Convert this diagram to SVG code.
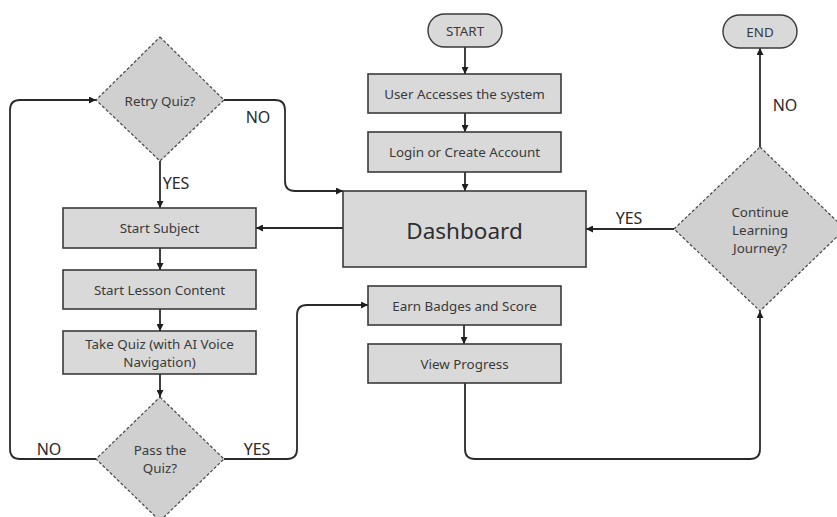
<svg xmlns="http://www.w3.org/2000/svg" width="837" height="517" viewBox="0 0 837 517">
  <defs>
    <marker id="arrow" viewBox="0 0 8 8" refX="8" refY="4" markerWidth="7" markerHeight="7" markerUnits="userSpaceOnUse" orient="auto">
      <path d="M0,0 L8,4 L0,8 Z" fill="#1e1e1e"/>
    </marker>
    <style>
      .box { fill: #d9d9d9; stroke: #3a3a3a; stroke-width: 1.6; }
      .pill { fill: #d9d9d9; stroke: #3a3a3a; stroke-width: 1.4; }
      .dia { fill: #d0d0d0; stroke: #444; stroke-width: 1.2; stroke-dasharray: 3 2; }
      .t { font-family: "Noto Sans", "Open Sans", sans-serif; font-size: 13.4px; fill: #3a3a3a; text-anchor: middle; dominant-baseline: central; }
      .big { font-size: 22.5px; fill: #2e2e2e; }
      .lbl { font-family: "Noto Sans", "Open Sans", sans-serif; font-size: 16px; fill: #2a2a2a; text-anchor: middle; }
      .c { fill: none; stroke: #2a2a2a; stroke-width: 1.8; marker-end: url(#arrow); }
    </style>
  </defs>
  <rect width="837" height="517" fill="#ffffff"/>

  <g id="connectors">
    <path class="c" d="M465,47 V74"/>
    <path class="c" d="M465,113 V132"/>
    <path class="c" d="M465,172 V191"/>
    <path class="c" d="M343,228 H256"/>
    <path class="c" d="M160,248 V270"/>
    <path class="c" d="M160,309 V331"/>
    <path class="c" d="M160,374 V397"/>
    <path class="c" d="M96,459 H20 Q10,459 10,449 V110 Q10,100 20,100 H96"/>
    <path class="c" d="M224,459 H287 Q297,459 297,449 V315 Q297,305 307,305 H368"/>
    <path class="c" d="M224,100 H275 Q285,100 285,110 V181 Q285,191 295,191 H343"/>
    <path class="c" d="M160,161 V208"/>
    <path class="c" d="M464,325 V344"/>
    <path class="c" d="M465,383 V449 Q465,459 475,459 H750 Q760,459 760,449 V311"/>
    <path class="c" d="M674,229 H586"/>
    <path class="c" d="M760,147 V48"/>
    <text class="lbl" x="258" y="123">NO</text>
    <text class="lbl" x="176" y="189">YES</text>
    <text class="lbl" x="785" y="111">NO</text>
    <text class="lbl" x="629" y="224">YES</text>
    <text class="lbl" x="49" y="455">NO</text>
    <text class="lbl" x="257" y="455">YES</text>
  </g>

  <g id="start">
    <rect class="pill" x="428" y="14" width="74" height="33" rx="16.5"/>
    <text class="t" x="465" y="30.5">START</text>
  </g>
  <g id="user-access">
    <rect class="box" x="368" y="74" width="193" height="39"/>
    <text class="t" x="464.5" y="94">User Accesses the system</text>
  </g>
  <g id="login">
    <rect class="box" x="368" y="132" width="193" height="40"/>
    <text class="t" x="464.5" y="152">Login or Create Account</text>
  </g>
  <g id="dashboard">
    <rect class="box" x="343" y="191" width="243" height="76"/>
    <text class="t big" x="464.5" y="230">Dashboard</text>
  </g>
  <g id="retry-quiz">
    <polygon class="dia" points="160,37 224,100 160,161 96,100"/>
    <text class="t" x="160" y="101">Retry Quiz?</text>
  </g>
  <g id="start-subject">
    <rect class="box" x="63" y="208" width="193" height="40"/>
    <text class="t" x="159.5" y="228">Start Subject</text>
  </g>
  <g id="start-lesson">
    <rect class="box" x="63" y="270" width="193" height="39"/>
    <text class="t" x="159.5" y="289.5">Start Lesson Content</text>
  </g>
  <g id="take-quiz">
    <rect class="box" x="63" y="331" width="193" height="43"/>
    <text class="t" x="159.5" y="344">Take Quiz (with AI Voice</text>
    <text class="t" x="159.5" y="362">Navigation)</text>
  </g>
  <g id="pass-quiz">
    <polygon class="dia" points="160,397 224,459 160,521 96,459"/>
    <text class="t" x="160" y="450">Pass the</text>
    <text class="t" x="160" y="468">Quiz?</text>
  </g>
  <g id="earn-badges">
    <rect class="box" x="368" y="286" width="193" height="39"/>
    <text class="t" x="464.5" y="305.5">Earn Badges and Score</text>
  </g>
  <g id="view-progress">
    <rect class="box" x="368" y="344" width="193" height="39"/>
    <text class="t" x="464.5" y="363.5">View Progress</text>
  </g>
  <g id="continue">
    <polygon class="dia" points="760,147 845,229 760,311 674,229"/>
    <text class="t" x="760" y="212">Continue</text>
    <text class="t" x="760" y="230">Learning</text>
    <text class="t" x="760" y="248">Journey?</text>
  </g>
  <g id="end">
    <rect class="pill" x="723" y="15" width="74" height="33" rx="16.5"/>
    <text class="t" x="760" y="31.5">END</text>
  </g>
</svg>
